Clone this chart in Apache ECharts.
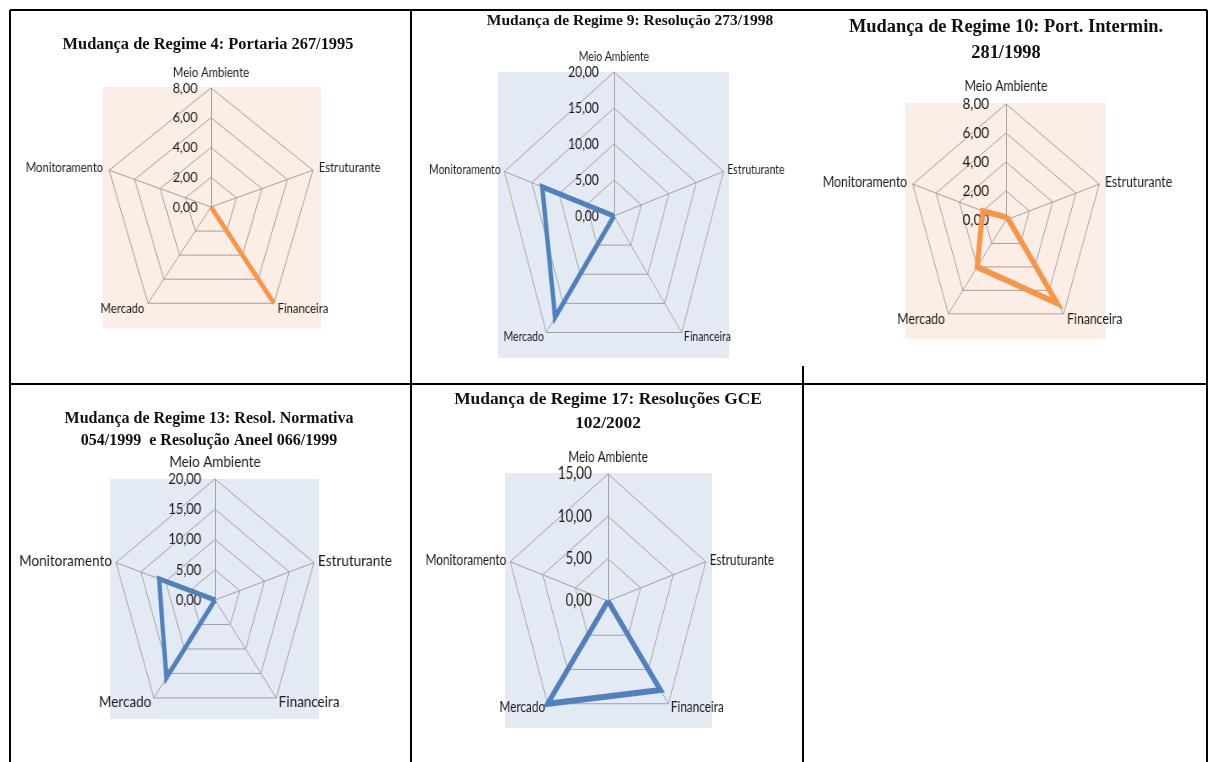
<!DOCTYPE html>
<html>
<head>
<meta charset="utf-8">
<script src="https://cdn.jsdelivr.net/npm/echarts@6/dist/echarts.min.js"></script>
<style>
  html, body { margin: 0; padding: 0; background: #fff; width: 1210px; height: 762px; overflow: hidden; }
  .layer { position: absolute; left: 0; top: 0; width: 1210px; height: 762px; }
  .radar { position: absolute; left: -300px; top: 0; width: 1810px; height: 762px; }
</style>
</head>
<body>
<div id="frame" class="layer"></div>
<div id="radar0" class="radar"></div>
<div id="radar1" class="radar"></div>
<div id="radar2" class="radar"></div>
<div id="radar3" class="radar"></div>
<div id="radar4" class="radar"></div>
<script>
// Dimensions, clockwise from the top
const categories = ['Meio Ambiente', 'Estruturante', 'Financeira', 'Mercado', 'Monitoramento'];

// Scores of each regime change, in the order of `categories`
const regime4  = [0, 0, 8, 0, 0];
const regime9  = [0, 0, 0, 17.4, 13.1];
const regime10 = [0.2, 0.2, 7.1, 4.0, 2.0];
const regime13 = [0, 0, 0, 15.9, 11.3];
const regime17 = [0, 0, 13, 15, 0];

const titles = [
  'Mudança de Regime 4: Portaria 267/1995',
  'Mudança de Regime 9: Resolução 273/1998',
  'Mudança de Regime 10: Port. Intermin.\n281/1998',
  'Mudança de Regime 13: Resol. Normativa\n054/1999  e Resolução Aneel 066/1999',
  'Mudança de Regime 17: Resoluções GCE\n102/2002'
];

// Radial scale of each chart: maximum and step between rings
const axisMax  = [8, 20, 8, 20, 15];
const axisStep = [2, 5, 2, 5, 5];

const ORANGE = '#F79646', BLUE = '#4F81BD';
const PEACH = '#FCEEE6', MIST = '#E3EAF3';

// Placement and styling of each panel
const panels = [
  { values: regime4,  line: ORANGE, fill: PEACH, cx: 211,  cy: 207, r: 119, sx: 0.90,  plot: [103, 87, 321, 328],
    titleX: 208, titleTop: 35, titleSize: 16.4, titleLH: 20, nameSize: 12.5, tickSize: 14, gap: 7, topGap: 9, margin: 15, width: 5 },
  { values: regime9,  line: BLUE,   fill: MIST,  cx: 614,  cy: 216, r: 144, sx: 0.80,  plot: [498, 72, 729, 358],
    titleX: 630, titleTop: 11, titleSize: 15.5, titleLH: 20, nameSize: 13, tickSize: 15, gap: 5, topGap: 9, margin: 19, width: 5.5 },
  { values: regime10, line: ORANGE, fill: PEACH, cx: 1006, cy: 220, r: 116, sx: 0.845, plot: [905, 103, 1106, 339],
    titleX: 1006, titleTop: 14, titleSize: 18.4, titleLH: 26, nameSize: 14.5, tickSize: 16, gap: 7, topGap: 10, margin: 20, width: 6 },
  { values: regime13, line: BLUE,   fill: MIST,  cx: 215,  cy: 600, r: 121, sx: 0.86,  plot: [110, 479, 319, 719],
    titleX: 209, titleTop: 408, titleSize: 16, titleLH: 22, nameSize: 15.7, tickSize: 15, gap: 5, topGap: 9, margin: 16, width: 5 },
  { values: regime17, line: BLUE,   fill: MIST,  cx: 608,  cy: 601, r: 127, sx: 0.81,  plot: [505, 473, 712, 728],
    titleX: 608, titleTop: 388, titleSize: 17.4, titleLH: 24, nameSize: 14.5, tickSize: 16.5, gap: 5, topGap: 9, margin: 20, width: 6 }
];

// ECharts lays radar indicators out counter-clockwise, so visit the
// categories in reverse after the first one to keep them clockwise.
const order = [0, 4, 3, 2, 1];
const fmt = v => v.toFixed(2).replace('.', ',');

// Background layer: table rules, plot-area fills and titles
const rules = [
  [10, 10, 1207, 10], [10, 10, 10, 762], [1207, 10, 1207, 762],
  [10, 384, 1207, 384], [411, 10, 411, 762], [803, 366, 803, 762]
];
const frame = echarts.init(document.getElementById('frame'), null, { renderer: 'canvas' });
frame.setOption({
  animation: false,
  title: panels.map((p, i) => ({
    text: titles[i], left: p.titleX, top: p.titleTop, textAlign: 'center', padding: 0,
    textStyle: { fontFamily: 'Liberation Serif', fontWeight: 'bold', fontSize: p.titleSize, lineHeight: p.titleLH, color: '#111' }
  })),
  graphic: [
    ...panels.map(p => ({
      type: 'rect', silent: true, z: 0,
      shape: { x: p.plot[0], y: p.plot[1], width: p.plot[2] - p.plot[0], height: p.plot[3] - p.plot[1] },
      style: { fill: p.fill }
    })),
    ...rules.map(l => ({
      type: 'line', silent: true, z: 10,
      shape: { x1: l[0], y1: l[1], x2: l[2], y2: l[3] },
      style: { stroke: '#000', lineWidth: 2 }
    }))
  ]
});

// One radar per panel; each layer is narrowed horizontally around its centre.
// The radar layers start 300px left of the page so nothing is cut off.
const SHIFT = 300;
panels.forEach((p, i) => {
  const el = document.getElementById('radar' + i);
  el.style.transformOrigin = (p.cx + SHIFT) + 'px 0';
  el.style.transform = 'scaleX(' + p.sx + ')';
  const chart = echarts.init(el, null, { renderer: 'canvas' });
  chart.setOption({
    animation: false,
    radar: {
      center: [p.cx + SHIFT, p.cy],
      radius: p.r,
      startAngle: 90,
      shape: 'polygon',
      splitNumber: axisMax[i] / axisStep[i],
      nameGap: p.gap,
      axisName: { color: '#1a1a1a', fontFamily: 'Lato', fontSize: p.nameSize },
      axisLine: { lineStyle: { color: '#A0A0A0', width: 1 } },
      splitLine: { lineStyle: { color: '#A0A0A0', width: 1 } },
      splitArea: { show: false },
      axisTick: { show: false },
      axisLabel: { show: false },
      indicator: order.map((k, j) => ({
        name: categories[k],
        min: 0,
        max: axisMax[i],
        nameGap: j === 0 ? p.topGap : p.gap,
        axisLabel: {
          show: j === 0, color: '#1a1a1a', fontFamily: 'Lato',
          fontSize: p.tickSize, margin: p.margin, formatter: fmt
        }
      }))
    },
    series: [{
      type: 'radar',
      symbol: 'none',
      lineStyle: { color: p.line, width: p.width, join: 'miter' },
      itemStyle: { color: p.line },
      data: [{ value: order.map(k => p.values[k]) }]
    }]
  });
});
</script>
</body>
</html>
